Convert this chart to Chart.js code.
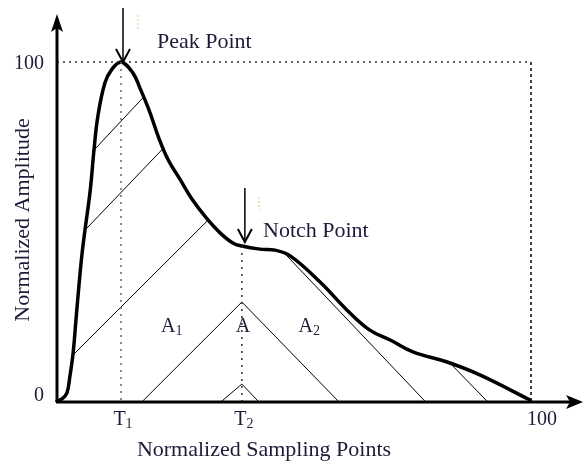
<!DOCTYPE html>
<html>
<head>
<meta charset="utf-8">
<script src="https://cdn.jsdelivr.net/npm/chart.js@4"></script>
<style>
  html, body { margin: 0; padding: 0; background: #fff; }
  #wrap { width: 584px; height: 462px; position: relative; }
</style>
</head>
<body>
<div id="wrap"><canvas id="grafico"></canvas></div>
<script>
// ── Datos (unidades normalizadas 0–100) ─────
const curveX = [0, 1.05, 2.1, 2.7, 3.4, 4.0, 4.6, 5.3, 5.9, 7.0, 7.8, 8.6, 10.1, 11.6, 13.5,
                16, 17.5, 19.5, 21.5, 23.5, 25.9, 28.5, 31.5, 34.4, 37.1, 39, 42.8, 46, 49.2,
                55.5, 61.2, 66, 70.3, 75.1, 82.3, 89.2, 99.8];
const curveY = [0, 0.6, 2.4, 7.1, 14.2, 23.9, 33.6, 43.7, 50.4, 62, 74, 83.8, 93.8, 97.9, 100,
                96.8, 92.3, 85.5, 77.5, 71, 65.5, 59.5, 54, 49.6, 46.6, 45.7, 44.8, 44.5, 42.8,
                35.1, 26.8, 20.9, 18, 14.5, 11.5, 7.7, 0.3];

// líneas de rayado (x, y)
const hatchLines = [
  [[7.8, 74], [18.1, 89.4]],
  [[5.9, 50.4], [22.4, 74.5]],
  [[3.4, 13.6], [31.9, 53.4]],
  [[18.1, 0], [39, 29.2], [59.3, 0]],
  [[34.8, 0], [39, 5], [42.4, 0]],
  [[47.7, 44], [77.6, 0]],
  [[82.9, 11.2], [90.7, 0]],
];

const peakX  = 13.5;   // T1
const notchX = 39;     // T2
const notchY = 45.7;
const yTicks = [0, 100];
const xTicks = [['T', '1', peakX], ['T', '2', notchX], ['100', '', 100]];
const areaLabels = [['A', '1', 24], ['A', '', 39], ['A', '2', 53]];

const TXT  = '#1c1c3a';
const FONT = '"Liberation Serif", "Times New Roman", serif';

const pts = (xs, ys) => xs.map((x, i) => ({ x, y: ys[i] }));
const seg = arr => arr.map(p => ({ x: p[0], y: p[1] }));

// ── Plugin: ejes, flechas y textos ─────
const decoPlugin = {
  id: 'deco',
  afterDatasetsDraw(chart) {
    const { ctx, scales: { x, y } } = chart;
    const x0 = x.getPixelForValue(0);
    const y0 = y.getPixelForValue(0);
    ctx.save();
    ctx.strokeStyle = '#000';
    ctx.fillStyle = '#000';

    // eje y
    ctx.lineWidth = 3;
    ctx.beginPath(); ctx.moveTo(x0, y0 + 1); ctx.lineTo(x0, 24); ctx.stroke();
    ctx.beginPath();
    ctx.moveTo(x0, 14); ctx.lineTo(x0 - 6, 32); ctx.lineTo(x0, 28); ctx.lineTo(x0 + 6, 32);
    ctx.closePath(); ctx.fill();

    // eje x
    ctx.beginPath(); ctx.moveTo(x0 - 1, y0 + 1); ctx.lineTo(574, y0 + 1); ctx.stroke();
    ctx.beginPath();
    ctx.moveTo(583, y0 + 1); ctx.lineTo(566, y0 - 6); ctx.lineTo(570, y0 + 1); ctx.lineTo(566, y0 + 8);
    ctx.closePath(); ctx.fill();

    // flechas hacia abajo
    const arrow = (px, tip) => {
      ctx.lineWidth = 1.5;
      ctx.beginPath(); ctx.moveTo(px, tip - 54); ctx.lineTo(px, tip - 1); ctx.stroke();
      ctx.lineWidth = 2;
      ctx.beginPath(); ctx.moveTo(px - 7, tip - 13); ctx.lineTo(px, tip); ctx.lineTo(px + 7, tip - 13); ctx.stroke();
    };
    arrow(x.getPixelForValue(peakX) + 2, y.getPixelForValue(100));
    arrow(x.getPixelForValue(notchX) + 3, y.getPixelForValue(notchY) - 4);

    // marcas naranjas tenues
    ctx.strokeStyle = 'rgba(240,170,90,.7)';
    ctx.lineWidth = 1;
    ctx.setLineDash([2, 2]);
    ctx.beginPath(); ctx.moveTo(138, 15); ctx.lineTo(138, 30); ctx.stroke();
    ctx.beginPath(); ctx.moveTo(259, 197); ctx.lineTo(259, 210); ctx.stroke();
    ctx.setLineDash([]);
    ctx.restore();
  },
  afterDraw(chart) {
    const { ctx, scales: { x, y } } = chart;
    const x0 = x.getPixelForValue(0);
    const y0 = y.getPixelForValue(0);
    ctx.save();
    ctx.fillStyle = TXT;
    ctx.textBaseline = 'alphabetic';

    const sub = (main, s, cx, base, size) => {
      ctx.font = `${size}px ${FONT}`;
      const w1 = ctx.measureText(main).width;
      ctx.font = `${Math.round(size * 0.72)}px ${FONT}`;
      const w2 = s ? ctx.measureText(s).width : 0;
      const left = cx - (w1 + w2) / 2;
      ctx.font = `${size}px ${FONT}`;
      ctx.textAlign = 'left';
      ctx.fillText(main, left, base);
      if (s) {
        ctx.font = `${Math.round(size * 0.72)}px ${FONT}`;
        ctx.fillText(s, left + w1, base + 3);
      }
    };

    // ticks eje y
    ctx.font = `20px ${FONT}`;
    ctx.textAlign = 'right';
    yTicks.forEach(v => {
      const py = y.getPixelForValue(v);
      ctx.fillText(String(v), x0 - 13, v === 0 ? py : py + 7);
    });

    // ticks eje x
    xTicks.forEach(([m, s, v]) => sub(m, s, x.getPixelForValue(v) + (v === 100 ? 11 : 2), y0 + 24, 20));

    // áreas
    areaLabels.forEach(([m, s, v]) => sub(m, s, x.getPixelForValue(v) + 1, y0 - 69, 20));

    // anotaciones
    ctx.font = `22px ${FONT}`;
    ctx.textAlign = 'left';
    ctx.fillText('Peak Point', 157, 48);
    ctx.fillText('Notch Point', 263, 237);

    // títulos de ejes
    ctx.textAlign = 'center';
    ctx.fillText('Normalized Sampling Points', 264, 456);
    ctx.translate(29, 220);
    ctx.rotate(-Math.PI / 2);
    ctx.fillText('Normalized Amplitude', 0, 0);
    ctx.restore();
  }
};

const hatchSets = hatchLines.map(h => ({
  data: seg(h), showLine: true, borderColor: '#000', borderWidth: 1,
  pointRadius: 0, tension: 0, clip: false,
}));

const guideSets = [
  { data: [{ x: 0, y: 100 }, { x: 100, y: 100 }], borderColor: '#333', borderDash: [2, 4], borderWidth: 1.3 },
  { data: [{ x: 100, y: 100 }, { x: 100, y: 0 }], borderColor: '#000', borderDash: [3, 3], borderWidth: 1.5 },
  { data: [{ x: peakX, y: 100 }, { x: peakX, y: 0 }], borderColor: '#666', borderDash: [2, 5], borderWidth: 1.5 },
  { data: [{ x: notchX, y: notchY }, { x: notchX, y: 0 }], borderColor: '#333', borderDash: [2, 5], borderWidth: 1.5 },
].map(d => ({ ...d, showLine: true, pointRadius: 0, tension: 0, clip: false }));

new Chart(document.getElementById('grafico'), {
  type: 'scatter',
  data: {
    datasets: [
      ...guideSets,
      ...hatchSets,
      {
        data: pts(curveX, curveY),
        showLine: true,
        borderColor: '#000',
        borderWidth: 3.5,
        pointRadius: 0,
        tension: 0.4,
        borderCapStyle: 'round',
        borderJoinStyle: 'round',
        clip: false,
      },
    ]
  },
  options: {
    responsive: true,
    maintainAspectRatio: false,
    animation: false,
    layout: { padding: { left: 57, right: 53, top: 62, bottom: 61 } },
    plugins: { legend: { display: false }, tooltip: { enabled: false } },
    scales: {
      x: { type: 'linear', min: 0, max: 100, display: false },
      y: { type: 'linear', min: 0, max: 100, display: false },
    }
  },
  plugins: [decoPlugin]
});
</script>
</body>
</html>
